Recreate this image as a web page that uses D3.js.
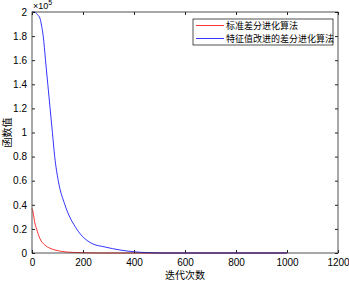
<!DOCTYPE html>
<html>
<head>
<meta charset="utf-8">
<script src="https://cdn.jsdelivr.net/npm/d3@7"></script>
<style>
  body { margin: 0; background: #fff; }
  svg text { font-family: "Liberation Sans", Arial, sans-serif; }
  .cjk { font-family: "Noto Sans CJK SC", sans-serif; }
</style>
</head>
<body>
<div id="chart"></div>
<script>
// iterations and objective values (x1e5)
const iterStd = [0, 5, 10, 18, 31, 51, 70, 90, 120, 160, 200, 260, 1000]
const valStd = [0.37, 0.33, 0.26, 0.2, 0.12, 0.065, 0.04, 0.025, 0.012, 0.005, 0.002, 0, 0]

const iterImp = [0, 10, 20, 31, 38, 44, 53, 62, 71, 80, 89, 103, 129, 175, 234, 286, 345, 400, 450, 500, 1000]
const valImp = [2.0, 2.0, 1.98, 1.95, 1.88, 1.8, 1.6, 1.4, 1.2, 1.0, 0.8, 0.6, 0.4, 0.2, 0.08, 0.05, 0.025, 0.01, 0.003, 0, 0]

const seriesNames = ['标准差分进化算法', '特征值改进的差分进化算法']
const seriesColors = ['#ff0000', '#0000ff']
const xTicks = [0, 200, 400, 600, 800, 1000, 1200]
const yTicks = [0, 0.2, 0.4, 0.6, 0.8, 1, 1.2, 1.4, 1.6, 1.8, 2]

const width = 349, height = 283
const margin = { top: 12, right: 11, bottom: 30, left: 32 }
const iw = width - margin.left - margin.right
const ih = height - margin.top - margin.bottom
const axisColor = '#262626'

const svg = d3.select('#chart').append('svg')
  .attr('width', width).attr('height', height)

const g = svg.append('g').attr('transform', `translate(${margin.left},${margin.top})`)

const x = d3.scaleLinear().domain([0, 1200]).range([0, iw])
const y = d3.scaleLinear().domain([0, 2]).range([ih, 0])

// series lines
const line = d3.line().x(d => x(d[0])).y(d => y(d[1])).curve(d3.curveMonotoneX)
const series = [
  d3.zip(iterStd, valStd),
  d3.zip(iterImp, valImp)
]
series.forEach((pts, i) => {
  g.append('path').datum(pts).attr('d', line)
    .attr('fill', 'none').attr('stroke', seriesColors[i]).attr('stroke-width', 0.8)
})

// axes with inward ticks, mirrored on top/right
const tickStyle = sel => {
  sel.select('.domain').remove()
  sel.selectAll('line').attr('stroke', axisColor)
  sel.selectAll('text').attr('fill', '#000').style('font-size', '10px')
}
g.append('g').attr('transform', `translate(0,${ih})`)
  .call(d3.axisBottom(x).tickValues(xTicks).tickSizeInner(-3).tickSizeOuter(0).tickPadding(6).tickFormat(d3.format('d')))
  .call(tickStyle)
g.append('g')
  .call(d3.axisTop(x).tickValues(xTicks).tickSizeInner(-3).tickSizeOuter(0).tickFormat(''))
  .call(tickStyle)
g.append('g')
  .call(d3.axisLeft(y).tickValues(yTicks).tickSizeInner(-3).tickSizeOuter(0).tickPadding(5).tickFormat(d3.format('~g')))
  .call(tickStyle)
g.append('g').attr('transform', `translate(${iw},0)`)
  .call(d3.axisRight(y).tickValues(yTicks).tickSizeInner(-3).tickSizeOuter(0).tickFormat(''))
  .call(tickStyle)

g.append('rect').attr('width', iw).attr('height', ih)
  .attr('fill', 'none').attr('stroke', axisColor).attr('stroke-width', 0.8)

// exponent label
const ex = svg.append('text').attr('x', margin.left + 1).attr('y', margin.top - 3)
  .style('font-size', '9px').attr('fill', '#000')
ex.append('tspan').text('×10')
ex.append('tspan').attr('dy', -4).style('font-size', '7px').text('5')

// axis titles
svg.append('text').attr('class', 'cjk')
  .attr('x', margin.left + iw / 2).attr('y', height - 4)
  .attr('text-anchor', 'middle').style('font-size', '10px').text('迭代次数')
svg.append('text').attr('class', 'cjk')
  .attr('transform', `translate(11,${margin.top + ih / 2}) rotate(-90)`)
  .attr('text-anchor', 'middle').style('font-size', '10px').text('函数值')

// legend
const lg = svg.append('g').attr('transform', 'translate(193,19)')
lg.append('rect').attr('width', 140).attr('height', 26)
  .attr('fill', '#fff').attr('stroke', axisColor).attr('stroke-width', 0.8)
seriesNames.forEach((s, i) => {
  const row = lg.append('g').attr('transform', `translate(0,${6.5 + i * 13})`)
  row.append('line').attr('x1', 3).attr('x2', 31).attr('y1', 0).attr('y2', 0)
    .attr('stroke', seriesColors[i]).attr('stroke-width', 0.8)
  row.append('text').attr('class', 'cjk').attr('x', 33).attr('y', 3.5)
    .style('font-size', '9px').text(s)
})
</script>
</body>
</html>
